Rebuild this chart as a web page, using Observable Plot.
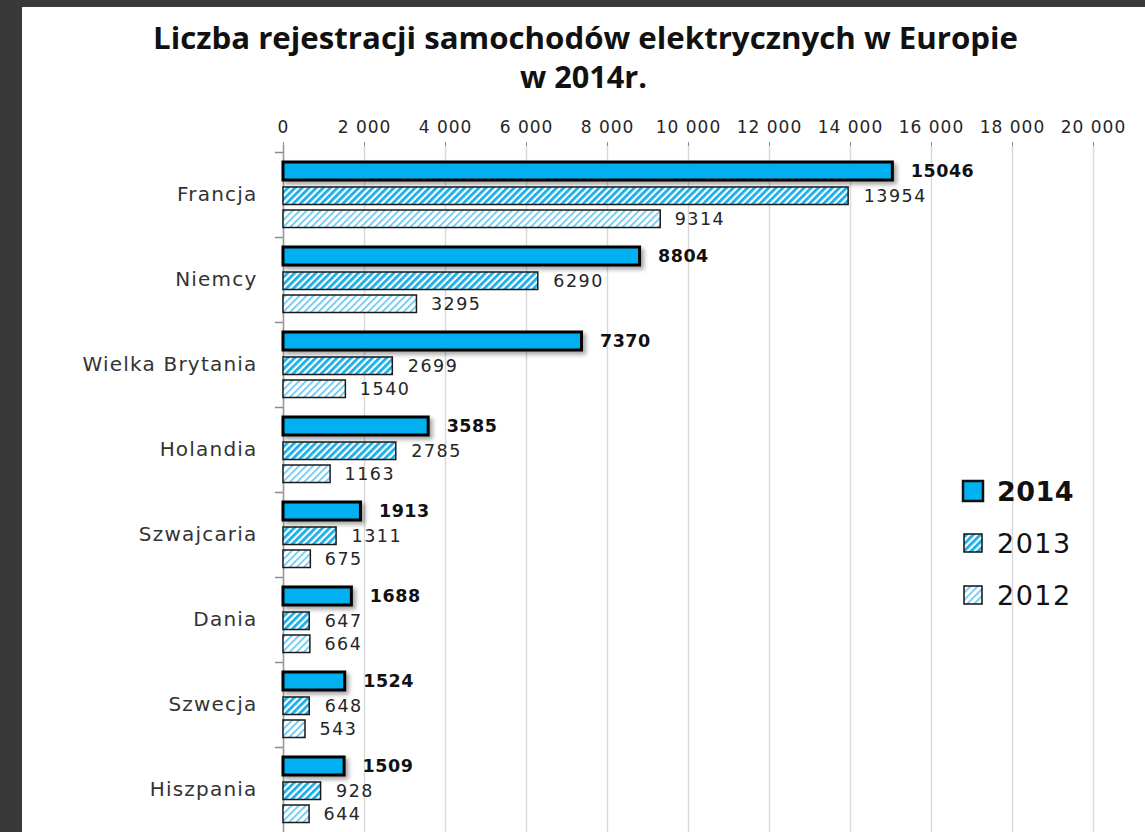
<!DOCTYPE html>
<html>
<head>
<meta charset="utf-8">
<script src="https://cdn.jsdelivr.net/npm/d3@7"></script>
<script src="https://cdn.jsdelivr.net/npm/@observablehq/plot@0.6"></script>
<style>
  html, body { margin: 0; padding: 0; }
  body { width: 1145px; height: 832px; background: #393939; position: relative; overflow: hidden; font-family: "DejaVu Sans", sans-serif; }
  #panel { position: absolute; left: 22px; top: 7px; right: 0; bottom: 0; background: #ffffff; }
  #title { position: absolute; left: 0; top: 0; }
  #chart { position: absolute; left: 0; top: 0; }
  #legend { position: absolute; left: 0; top: 0; }
</style>
</head>
<body>
<div id="panel"></div>
<svg width="0" height="0" style="position:absolute">
  <defs>
    <pattern id="hatch2013" width="5" height="5" patternUnits="userSpaceOnUse" patternTransform="rotate(45)">
      <rect width="5" height="5" fill="#ffffff"></rect>
      <rect width="2.8" height="5" fill="#1aaee8"></rect>
    </pattern>
    <pattern id="hatch2012" width="5" height="5" patternUnits="userSpaceOnUse" patternTransform="rotate(45)">
      <rect width="5" height="5" fill="#ffffff"></rect>
      <rect width="1.6" height="5" fill="#5cc4ee"></rect>
    </pattern>
    <filter id="shadow" x="-10%" y="-40%" width="130%" height="200%">
      <feDropShadow dx="3" dy="3" stdDeviation="2" flood-color="#000" flood-opacity="0.35"></feDropShadow>
    </filter>
  </defs>
</svg>
<svg id="title" width="1145" height="100">
  <text x="153" y="49" textLength="865" lengthAdjust="spacingAndGlyphs" font-family="Open Sans" font-weight="700" font-size="30" fill="#111">Liczba rejestracji samochodów elektrycznych w Europie</text>
  <text x="520" y="88" textLength="127" lengthAdjust="spacingAndGlyphs" font-family="Open Sans" font-weight="700" font-size="30" fill="#111">w 2014r.</text>
</svg>
<div id="chart"></div>
<svg id="legend" width="1145" height="832"></svg>
<script>
const countries = ["Francja", "Niemcy", "Wielka Brytania", "Holandia", "Szwajcaria", "Dania", "Szwecja", "Hiszpania"];
const v2014 = [15046, 8804, 7370, 3585, 1913, 1688, 1524, 1509];
const v2013 = [13954, 6290, 2699, 2785, 1311, 647, 648, 928];
const v2012 = [9314, 3295, 1540, 1163, 675, 664, 543, 644];
const years = ["2014", "2013", "2012"];
const xTicks = [0, 2000, 4000, 6000, 8000, 10000, 12000, 14000, 16000, 18000, 20000];

const rows2014 = countries.map((c, i) => ({country: c, value: v2014[i]}));
const rows2013 = countries.map((c, i) => ({country: c, value: v2013[i]}));
const rows2012 = countries.map((c, i) => ({country: c, value: v2012[i]}));

const fmt = d => d === 0 ? "0" : d3.format(",")(d).replace(/,/g, " ");
const tickTexts = new Set(xTicks.map(fmt));

const plot = Plot.plot({
  width: 1145,
  height: 832,
  marginTop: 145,
  marginBottom: 0,
  marginLeft: 283,
  marginRight: 52,
  style: {background: "transparent", fontFamily: "DejaVu Sans", fontSize: "16px", color: "#262626"},
  x: {domain: [0, 20000], axis: null, label: null},
  y: {type: "band", domain: countries, range: [152, 832], padding: 0, axis: null, label: null},
  marks: [
    Plot.gridX(xTicks, {stroke: "#d9d9d9", strokeOpacity: 1, strokeWidth: 1.5}),
    Plot.axisX(xTicks, {anchor: "top", label: null, tickSize: 4, tickPadding: 9, stroke: "#8c8c8c", tickFormat: fmt, fontSize: 17, fill: "#262626"}),
    Plot.ruleX([0], {stroke: "#9a9a9a", strokeWidth: 1.5}),
    Plot.ruleY(countries, {y: d => d, dy: -42.5, x1: -200, x2: 0, stroke: "#8c8c8c", strokeWidth: 1.5}),
    Plot.barX(rows2014, {y: "country", x: "value", insetTop: 10, insetBottom: 57, fill: "#00b0f0", stroke: "#000", strokeWidth: 3}),
    Plot.barX(rows2013, {y: "country", x: "value", insetTop: 35, insetBottom: 32.5, fill: "url(#hatch2013)", stroke: "#1a1a1a", strokeWidth: 1.5}),
    Plot.barX(rows2012, {y: "country", x: "value", insetTop: 58, insetBottom: 9.5, fill: "url(#hatch2012)", stroke: "#1a1a1a", strokeWidth: 1.5}),
    Plot.text(rows2014, {y: "country", x: "value", text: d => String(d.value), dy: -23.5, dx: 18, textAnchor: "start", fontWeight: "bold", fontSize: 17.5, fill: "#111"}),
    Plot.text(rows2013, {y: "country", x: "value", text: d => String(d.value), dy: 1, dx: 15, textAnchor: "start", fontSize: 17.5, fill: "#262626"}),
    Plot.text(rows2012, {y: "country", x: "value", text: d => String(d.value), dy: 24, dx: 14, textAnchor: "start", fontSize: 17.5, fill: "#262626"}),
    Plot.text(countries, {y: d => d, text: d => d, frameAnchor: "left", textAnchor: "end", dx: -26, fontSize: 20, fill: "#333"})
  ]
});
document.getElementById("chart").appendChild(plot);
const s = d3.select(plot);
s.selectAll("text").each(function() {
  const t = this.textContent;
  const g = this.parentNode;
  const bold = g && g.getAttribute && g.getAttribute("font-weight") === "bold";
  let ls = null;
  if (countries.includes(t)) ls = "1.2px";
  else if (tickTexts.has(t)) ls = "1px";
  else if (/^\d+$/.test(t)) ls = bold ? "0.5px" : "1.5px";
  if (ls) d3.select(this).style("letter-spacing", ls);
});
s.selectAll("g").filter(function() { return this.getAttribute("fill") === "#00b0f0"; }).attr("filter", "url(#shadow)");

// legend
const lg = d3.select("#legend");
const legendItems = [
  {year: years[0], fill: "#00b0f0", sw: 2.5, size: 20, bold: true, fontSize: 27},
  {year: years[1], fill: "url(#hatch2013)", sw: 1.5, size: 18, bold: false, fontSize: 27},
  {year: years[2], fill: "url(#hatch2012)", sw: 1.5, size: 18, bold: false, fontSize: 27}
];
const ly = d3.scalePoint().domain(years).range([491, 595]);
legendItems.forEach(it => {
  const cy = ly(it.year);
  lg.append("rect").attr("x", 973 - it.size / 2).attr("y", cy - it.size / 2).attr("width", it.size).attr("height", it.size)
    .attr("fill", it.fill).attr("stroke", "#111").attr("stroke-width", it.sw);
  lg.append("text").attr("x", 997).attr("y", cy + 10).text(it.year)
    .attr("font-family", "DejaVu Sans").attr("font-size", it.fontSize).attr("font-weight", it.bold ? "bold" : "normal")
    .attr("fill", "#111").style("letter-spacing", it.bold ? "0.5px" : "1.5px");
});
</script>
</body>
</html>
